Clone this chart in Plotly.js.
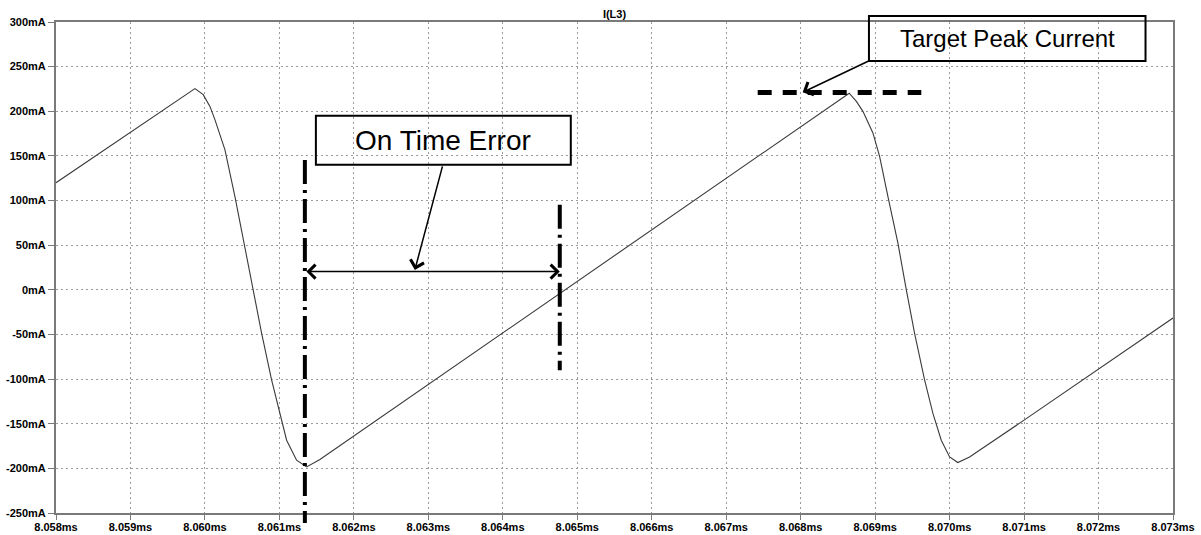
<!DOCTYPE html>
<html>
<head>
<meta charset="utf-8">
<script src="https://cdn.plot.ly/plotly-3.0.1.min.js"></script>
<style>html,body{margin:0;padding:0;background:#fff;}#chart{width:1201px;height:535px;}</style>
</head>
<body>
<div id="chart"></div>
<script>
// ---- data (time in ms, current in mA) ----
const timeMs = [8.058, 8.059, 8.059866, 8.059977, 8.060067, 8.060134, 8.060268, 8.060403, 8.060514,
  8.060648, 8.060761, 8.060895, 8.061007, 8.061097, 8.061231, 8.061365, 8.061544,
  8.068652, 8.068748, 8.068836, 8.06897, 8.06906, 8.069172, 8.069306, 8.069419, 8.06953,
  8.069664, 8.069776, 8.069888, 8.07, 8.070111, 8.070268, 8.071, 8.073];
const currentMa = [120, 176.5, 225.4, 218.6, 205.5, 190.6, 157, 104.5, 56,
  0, -48.4, -101, -138, -168.5, -190.9, -198.4, -190,
  220.2, 211.1, 199.9, 175.7, 149.4, 104.5, 52.2, 0, -48.8,
  -101, -138.5, -168.5, -187.2, -193.5, -187.2, -146, -31.6];

const xTickVals = [8.058, 8.059, 8.060, 8.061, 8.062, 8.063, 8.064, 8.065, 8.066, 8.067, 8.068, 8.069, 8.070, 8.071, 8.072, 8.073];
const xTickText = ['8.058ms','8.059ms','8.060ms','8.061ms','8.062ms','8.063ms','8.064ms','8.065ms','8.066ms','8.067ms','8.068ms','8.069ms','8.070ms','8.071ms','8.072ms','8.073ms'];
const yTickVals = [-250, -200, -150, -100, -50, 0, 50, 100, 150, 200, 250, 300];
const yTickText = ['-250mA','-200mA','-150mA','-100mA','-50mA','0mA','50mA','100mA','150mA','200mA','250mA','300mA'];

// annotation anchors (data units)
const onTimeStart = 8.061342, onTimeEnd = 8.064765, onTimeLevel = 20.4;
const targetPeak = 220.9, targetX0 = 8.067423, targetX1 = 8.06962;

const tickFont = {family: 'Liberation Sans, Arial, sans-serif', size: 11, color: '#000', weight: 'bold'};
const axisCommon = {
  showline: true, mirror: true, linecolor: '#7a7a7a', linewidth: 2,
  ticks: 'outside', ticklen: 6, tickcolor: '#7a7a7a', tickwidth: 1,
  showgrid: true, gridcolor: '#9a9a9a', gridwidth: 1, griddash: '2px,3px',
  zeroline: false, tickfont: tickFont, tickmode: 'array'
};

const trace = {
  x: timeMs, y: currentMa, type: 'scatter', mode: 'lines',
  line: {color: '#3a3a3a', width: 1.1}, hoverinfo: 'skip'
};

const layout = {
  width: 1201, height: 535,
  margin: {l: 56, r: 28, t: 22, b: 22},
  paper_bgcolor: '#fff', plot_bgcolor: '#fff',
  showlegend: false,
  title: {text: 'I(L3)', font: {family: 'Liberation Sans, Arial, sans-serif', size: 11, color: '#000', weight: 'bold'},
          x: 0.5, xref: 'paper', xanchor: 'center', y: 1 - 14/535, yref: 'container', yanchor: 'middle'},
  xaxis: Object.assign({}, axisCommon, {range: [8.058, 8.073], tickvals: xTickVals, ticktext: xTickText, ticklen: 5, ticklabelstandoff: -2}),
  yaxis: Object.assign({}, axisCommon, {range: [-250, 300], tickvals: yTickVals, ticktext: yTickText}),
  shapes: [
    {type: 'line', xref: 'x', yref: 'paper', x0: onTimeStart, x1: onTimeStart, y0: 0.719, y1: -0.0204,
     line: {color: '#000', width: 4, dash: '24px,6px,3px,6px'}},
    {type: 'line', xref: 'x', yref: 'y', x0: onTimeEnd, x1: onTimeEnd, y0: 95.2, y1: -90,
     line: {color: '#000', width: 4, dash: '24px,6px,3px,6px'}},
    {type: 'line', xref: 'x', yref: 'y', x0: targetX0, x1: targetX1, y0: targetPeak, y1: targetPeak,
     line: {color: '#000', width: 5, dash: '14px,11px'}},
    {type: 'rect', xref: 'x', yref: 'y', x0: 8.06149, x1: 8.064913, y0: 195.1, y1: 140.1,
     line: {color: '#000', width: 2}, fillcolor: 'rgba(0,0,0,0)'},
    {type: 'rect', xref: 'x', yref: 'paper', x0: 8.068917, x1: 8.072631, y0: 1.0122, y1: 0.9206,
     line: {color: '#000', width: 2}, fillcolor: 'rgba(0,0,0,0)'}
  ],
  annotations: [
    {text: 'On Time Error', x: 8.063199, y: 167.4, xref: 'x', yref: 'y', showarrow: false,
     font: {family: 'Liberation Sans, Arial, sans-serif', size: 28, color: '#000'}, xanchor: 'center', yanchor: 'middle'},
    {text: 'Target Peak Current', x: 8.070772, y: 0.9674, xref: 'x', yref: 'paper', showarrow: false,
     font: {family: 'Liberation Sans, Arial, sans-serif', size: 24, color: '#000'}, xanchor: 'center', yanchor: 'middle'},
    {text: '', x: 8.062819, y: 22.3, ax: 8.063195, ay: 140, xref: 'x', yref: 'y', axref: 'x', ayref: 'y',
     showarrow: true, arrowhead: 4, arrowsize: 1.8, arrowwidth: 1.5, arrowcolor: '#000'},
    {text: '', x: onTimeEnd, y: onTimeLevel, ax: onTimeStart, ay: onTimeLevel, xref: 'x', yref: 'y', axref: 'x', ayref: 'y',
     showarrow: true, arrowside: 'end+start', arrowhead: 4, startarrowhead: 4, arrowsize: 1.8, startarrowsize: 1.8,
     arrowwidth: 1.5, arrowcolor: '#000'},
    {text: '', x: 8.068027, y: 221.2, ax: 8.068926, ay: 256.8, xref: 'x', yref: 'y', axref: 'x', ayref: 'y',
     showarrow: true, arrowhead: 4, arrowsize: 1.8, arrowwidth: 1.5, arrowcolor: '#000'}
  ]
};

Plotly.newPlot('chart', [trace], layout, {staticPlot: true, displayModeBar: false});
</script>
</body>
</html>
